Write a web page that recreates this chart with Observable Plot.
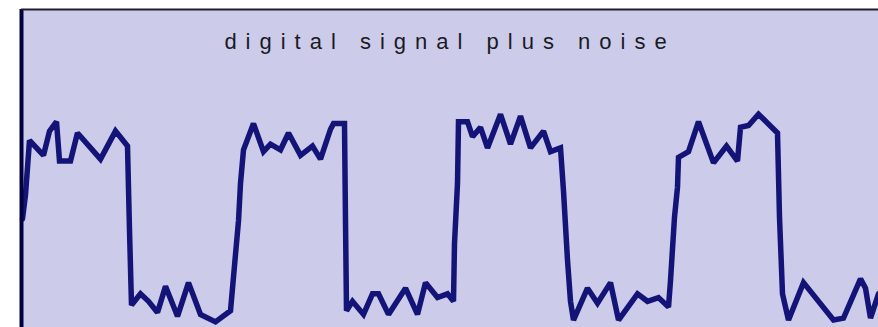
<!DOCTYPE html>
<html><head><meta charset="utf-8">
<script src="https://cdn.jsdelivr.net/npm/d3@7"></script>
<script src="https://cdn.jsdelivr.net/npm/@observablehq/plot@0.6"></script>
<style>
html,body{margin:0;padding:0;background:#fff;}
#chart svg{display:block;}
</style></head><body><div id="chart"></div>
<script>
const title = "digital signal plus noise";
// time (sample position) and amplitude
const time = [1,4,8,15,22,28,35,38,49,56,79,94,106,108,110,119,127,136,144,156,167,179,194,209,213,217,219,222,232,242,249,259,267,279,291,299,309,312,323,324,325,331,342,351,357,367,384,396,404,416,426,432,433,436,437,446,451,459,466,479,489,499,509,522,529,539,542,546,549,552,566,576,589,597,616,626,637,647,649,653,656,657,667,677,692,705,716,719,727,737,756,758,761,767,782,812,822,839,844,849,857];
const signal = [0.48,0.61,0.90,0.86,0.82,0.95,1.00,0.79,0.79,0.94,0.80,0.95,0.87,0.42,0.02,0.08,0.04,-0.02,0.12,-0.04,0.14,-0.03,-0.07,-0.01,0.23,0.47,0.67,0.85,0.99,0.84,0.88,0.85,0.94,0.82,0.87,0.80,0.96,0.99,0.99,0.47,-0.01,0.04,-0.03,0.08,0.08,-0.03,0.11,-0.03,0.14,0.06,0.08,0.04,0.35,0.67,1.00,1.00,0.92,0.97,0.86,1.04,0.88,1.03,0.86,0.95,0.84,0.86,0.63,0.26,0.04,-0.06,0.11,0.03,0.14,-0.06,0.08,0.04,0.06,0.01,0.15,0.49,0.65,0.81,0.84,1.00,0.78,0.87,0.79,0.97,0.98,1.04,0.94,0.49,0.08,-0.06,0.14,-0.06,-0.05,0.16,0.11,-0.05,0.08];
const yMin = -0.1, yMax = 1.6;
const tMin = 0, tMax = 857;

const data = time.map((t, i) => ({t, v: signal[i]}));

const chart = Plot.plot({
  width: 878, height: 327,
  marginLeft: 21, marginRight: 0, marginTop: 9, marginBottom: 0,
  style: {background: "#fff", fontFamily: "'Liberation Sans', Arial, sans-serif", overflow: "visible"},
  x: {domain: [tMin, tMax], axis: null},
  y: {domain: [yMin, yMax], axis: null},
  marks: [
    Plot.frame({fill: "#ccccea", stroke: null}),
    Plot.line(data, {x: "t", y: "v", stroke: "#141478", strokeWidth: 5.5, strokeLinejoin: "miter", strokeMiterlimit: 2}),
    Plot.ruleX([tMin], {stroke: "#000040", strokeWidth: 4}),
    Plot.ruleY([yMax], {stroke: "#1e1e2c", strokeWidth: 2}),
    Plot.text([title], {frameAnchor: "top", dy: 24, lineAnchor: "top", fontSize: 22, fill: "#1a1a24"})
  ]
});
document.getElementById("chart").appendChild(chart);
d3.select(chart).selectAll("g[aria-label='text'] text").style("letter-spacing", "9px");
</script>
</body></html>
